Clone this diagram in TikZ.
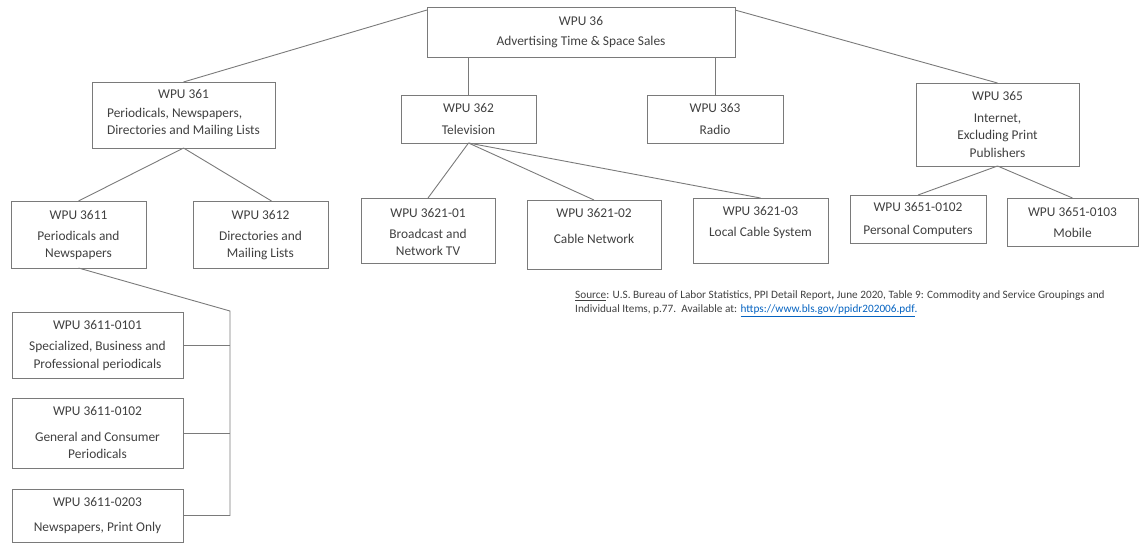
\documentclass[tikz,border=0pt]{standalone}
\usepackage{fontspec}
\setmainfont{Carlito}
\usetikzlibrary{calc}
\definecolor{txt}{HTML}{404040}
\definecolor{ln}{HTML}{7A7A7A}
\definecolor{lnk}{HTML}{0563C1}
\newcommand\mybox[5]{\node[box, minimum width={#4-#2}, minimum height={#5-#3}] (#1) at ({(#2+#4)/2},{(#3+#5)/2}) {};}
\begin{document}
\begin{tikzpicture}[x=1pt,y=-1pt,
  box/.style={draw=ln, line width=0.9pt, inner sep=0pt, outer sep=0pt},
  lbl/.style={align=center, text=txt, inner sep=0pt, font=\fontsize{13.4}{17.5}\selectfont},
  conn/.style={draw=ln, line width=0.9pt}]
\useasboundingbox (0,0) rectangle (1140,544);
% boxes
\mybox{b36}{427}{7}{735}{57}
\mybox{b361}{92}{82}{275}{148}
\mybox{b362}{401}{95}{536}{143}
\mybox{b363}{647}{95}{783}{143}
\mybox{b365}{916}{83}{1079}{166}
\mybox{b3611}{11}{201}{146}{268}
\mybox{b3612}{193}{201}{328}{268}
\mybox{b362101}{361}{198}{495}{263}
\mybox{b362102}{527}{200}{661}{269}
\mybox{b362103}{693}{198}{828}{263}
\mybox{b365102}{850}{195}{986}{243}
\mybox{b365103}{1007}{198}{1138}{246}
\mybox{b361101}{12}{312}{183}{378}
\mybox{b361102}{12}{398}{183}{468}
\mybox{b361103}{12}{489}{183}{542}
% texts
\node[lbl] (t36) at (581,32) {WPU 36\\[2.5pt]Advertising Time \& Space Sales};
\node[lbl] (t361) at (183.5,114.5) {WPU 361\\[5.5pt]\begin{tabular}{@{}l@{}}Periodicals, Newspapers,\\Directories and Mailing Lists\end{tabular}};
\node[lbl] (t362) at (468.5,119) {WPU 362\\[4.5pt]Television};
\node[lbl] (t363) at (715,119) {WPU 363\\[4.5pt]Radio};
\node[lbl] (t365) at (997.5,124.5) {WPU 365\\[4.5pt]Internet,\\Excluding Print\\Publishers};
\node[lbl] (t3611) at (78.5,235) {WPU 3611\\[3.5pt]Periodicals and\\Newspapers};
\node[lbl] (t3612) at (260.5,235) {WPU 3612\\[3.5pt]Directories and\\Mailing Lists};
\node[lbl] (t362101) at (428,232) {WPU 3621-01\\[3.5pt]Broadcast and\\Network TV};
\node[lbl] (t362102) at (594,226) {WPU 3621-02\\[8.5pt]Cable Network};
\node[lbl] (t362103) at (760.5,222.5) {WPU 3621-03\\[3.5pt]Local Cable System};
\node[lbl] (t365102) at (918,219.5) {WPU 3651-0102\\[5.5pt]Personal Computers};
\node[lbl] (t365103) at (1072.5,222.5) {WPU 3651-0103\\[3.5pt]Mobile};
\node[lbl] (t361101) at (97.5,345.5) {WPU 3611-0101\\[3.5pt]Specialized, Business and\\Professional periodicals};
\node[lbl] (t361102) at (97.5,432.5) {WPU 3611-0102\\[8.5pt]General and Consumer\\Periodicals};
\node[lbl] (t361103) at (97.5,515.5) {WPU 3611-0203\\[7.5pt]Newspapers, Print Only};
% connectors
\draw[conn] ($(b36.north west)+(0,3)$) -- (b361.north);
\draw[conn] ($(b36.north east)+(0,3)$) -- (b365.north);
\draw[conn] (b36.south -| b362.north) -- (b362.north);
\draw[conn] (b36.south -| b363.north) -- (b363.north);
\draw[conn] (b361.south) -- (b3611.north);
\draw[conn] (b361.south) -- ($(b3612.north)+(11,0)$);
\draw[conn] (b362.south) -- (b362101.north);
\draw[conn] (b362.south) -- (b362102.north);
\draw[conn] (b362.south) -- (b362103.north);
\draw[conn] (b365.south) -- (b365102.north);
\draw[conn] (b365.south) -- (b365103.north);
\coordinate (br) at (230,311);
\draw[conn] (b3611.south) -- (br) -- (br |- b361103.east) -- (b361103.east);
\draw[conn] (b361101.east) -- (b361101.east -| br);
\draw[conn] (b361102.east) -- (b361102.east -| br);
% source
\node[anchor=west, align=left, text=txt, inner sep=0pt, font=\fontsize{11.25}{14}\selectfont] (src) at (575,304)
 {\underline{Source}: U.S. Bureau of Labor Statistics, PPI Detail Report\textbf{,} June 2020, Table 9: Commodity and Service Groupings and\\
 Individual Items, p.77.\ \ Available at: \textcolor{lnk}{\underline{https://www.bls.gov/ppidr202006.pdf}.}};
\end{tikzpicture}
\end{document}
